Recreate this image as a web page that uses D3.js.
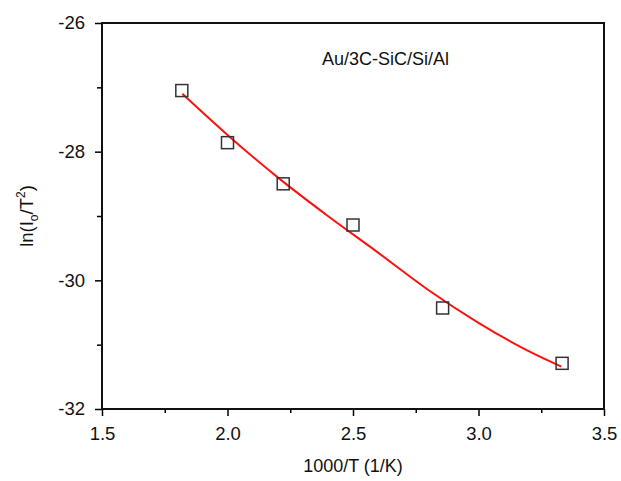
<!DOCTYPE html>
<html>
<head>
<meta charset="utf-8">
<script src="https://cdn.jsdelivr.net/npm/d3@7"></script>
<style>
  body { margin: 0; background: #fff; }
  text { font-family: "Liberation Sans", Arial, sans-serif; fill: #111; }
</style>
</head>
<body>
<div id="chart"></div>
<script>
const width = 621;
const height = 481;
const margin = { top: 23, right: 17, bottom: 72, left: 102 };

// measured points: 1000/T and ln(Io/T^2)
const invT = [1.818, 2.0, 2.222, 2.5, 2.857, 3.333];
const lnIo = [-27.05, -27.86, -28.50, -29.14, -30.43, -31.29];

// red fit curve
const fitX = [1.82, 2.0, 2.2, 2.4, 2.6, 2.8, 3.0, 3.2, 3.33];
const fitY = [-27.10, -27.74, -28.40, -29.00, -29.57, -30.15, -30.66, -31.10, -31.34];

const xTicks = [1.5, 2.0, 2.5, 3.0, 3.5];
const yTicks = [-32, -30, -28, -26];

const svg = d3.select('#chart')
    .append('svg')
    .attr('width', width)
    .attr('height', height);

const x = d3.scaleLinear()
    .domain([1.5, 3.5])
    .range([margin.left, width - margin.right]);

const y = d3.scaleLinear()
    .domain([-32, -26])
    .range([height - margin.bottom, margin.top]);

const x0 = margin.left, x1 = width - margin.right;
const y0 = height - margin.bottom, y1 = margin.top;

// minor ticks
svg.append('g')
    .attr('transform', `translate(0, ${y0})`)
    .call(d3.axisBottom(x).tickValues(d3.range(1.75, 3.5, 0.5)).tickSize(4).tickFormat(''))
    .call(g => g.select('.domain').remove())
    .attr('stroke-width', 1.5);

svg.append('g')
    .attr('transform', `translate(${x0}, 0)`)
    .call(d3.axisLeft(y).tickValues([-31, -29, -27]).tickSize(5).tickFormat(''))
    .call(g => g.select('.domain').remove())
    .attr('stroke-width', 1.5);

// major ticks + labels
svg.append('g')
    .attr('transform', `translate(0, ${y0})`)
    .call(d3.axisBottom(x).tickValues(xTicks).tickSize(7).tickPadding(11).tickFormat(d3.format('.1f')))
    .call(g => g.select('.domain').remove())
    .call(g => g.selectAll('line').attr('stroke-width', 1.5))
    .call(g => g.selectAll('text').attr('font-size', 18.5).attr('fill', '#111'));

svg.append('g')
    .attr('transform', `translate(${x0}, 0)`)
    .call(d3.axisLeft(y).tickValues(yTicks).tickSize(7).tickPadding(10).tickFormat(d => '-' + Math.abs(d)))
    .call(g => g.select('.domain').remove())
    .call(g => g.selectAll('line').attr('stroke-width', 1.5))
    .call(g => g.selectAll('text').attr('font-size', 18.5).attr('fill', '#111'));

// frame
svg.append('rect')
    .attr('x', x0)
    .attr('y', y1)
    .attr('width', x1 - x0)
    .attr('height', y0 - y1)
    .attr('fill', 'none')
    .attr('stroke', '#111')
    .attr('stroke-width', 2);

// fit curve
const fit = fitX.map((d, i) => [d, fitY[i]]);
svg.append('path')
    .datum(fit)
    .attr('fill', 'none')
    .attr('stroke', '#ff1010')
    .attr('stroke-width', 2)
    .attr('d', d3.line().x(d => x(d[0])).y(d => y(d[1])).curve(d3.curveMonotoneX));

// markers
const s = 12;
svg.append('g')
    .selectAll('rect')
    .data(invT.map((d, i) => [d, lnIo[i]]))
    .join('rect')
      .attr('x', d => x(d[0]) - s / 2)
      .attr('y', d => y(d[1]) - s / 2)
      .attr('width', s)
      .attr('height', s)
      .attr('fill', 'none')
      .attr('stroke', '#333')
      .attr('stroke-width', 1.5);

// sample label
svg.append('text')
    .attr('x', 322)
    .attr('y', 65)
    .attr('font-size', 18)
    .text('Au/3C-SiC/Si/Al');

// axis titles
svg.append('text')
    .attr('x', (x0 + x1) / 2)
    .attr('y', 472)
    .attr('text-anchor', 'middle')
    .attr('font-size', 18)
    .text('1000/T (1/K)');

const yl = svg.append('text')
    .attr('transform', `translate(33, ${(y0 + y1) / 2}) rotate(-90)`)
    .attr('text-anchor', 'middle')
    .attr('font-size', 18.5);
yl.append('tspan').text('ln(I');
yl.append('tspan').attr('font-size', 12).attr('dy', 5).text('o');
yl.append('tspan').attr('dy', -5).text('/T');
yl.append('tspan').attr('font-size', 12).attr('dy', -8).text('2');
yl.append('tspan').attr('dy', 8).text(')');
</script>
</body>
</html>
